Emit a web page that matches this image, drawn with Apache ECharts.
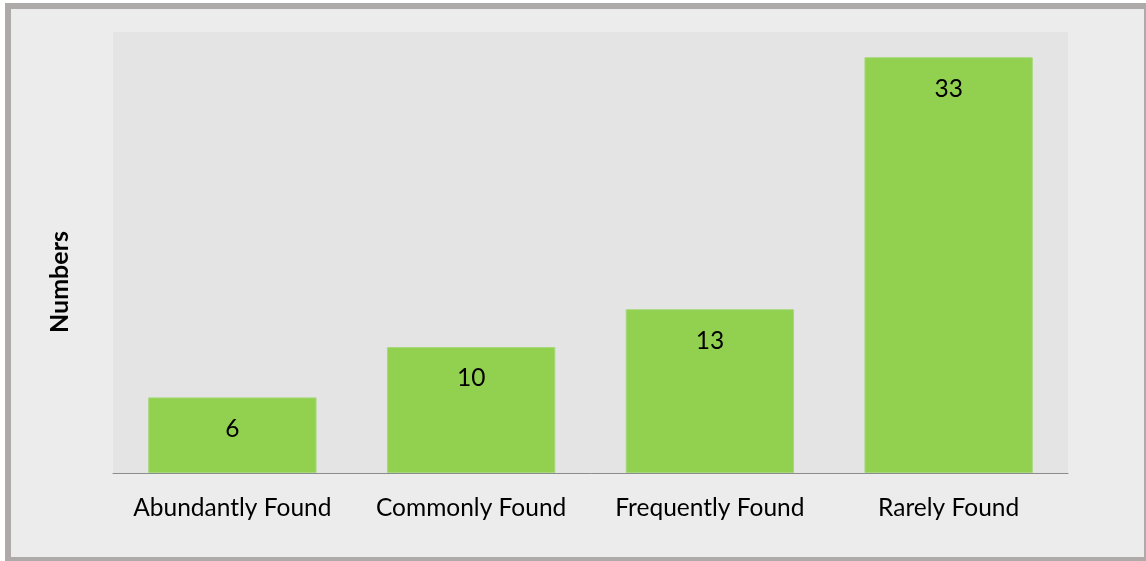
<!DOCTYPE html>
<html>
<head>
<meta charset="utf-8">
<script src="https://cdn.jsdelivr.net/npm/echarts@6/dist/echarts.min.js"></script>
<style>
  html, body { margin: 0; padding: 0; background: #ffffff; }
  #chart { width: 1146px; height: 561px; }
</style>
</head>
<body>
<div id="chart"></div>
<script>
// Occurrence categories and how many species fall in each
const categories = ['Abundantly Found', 'Commonly Found', 'Frequently Found', 'Rarely Found'];
const counts = [6, 10, 13, 33];
const axisTitle = 'Numbers';

const FONT = 'Lato';

const chart = echarts.init(document.getElementById('chart'), null, { renderer: 'canvas' });

chart.setOption({
  backgroundColor: '#ffffff',
  animation: false,
  graphic: [
    // framed panel behind the chart
    { type: 'rect', z: -10, shape: { x: 5, y: 3, width: 1141, height: 558 }, style: { fill: '#aeaaaa' } },
    { type: 'rect', z: -9, shape: { x: 11, y: 9, width: 1133, height: 548 }, style: { fill: '#ececec' } },
    {
      type: 'text', z: 10, x: 60, y: 282, rotation: Math.PI / 2,
      style: {
        text: axisTitle, fill: '#000000', font: 'bold 25px ' + FONT,
        align: 'center', verticalAlign: 'middle'
      }
    }
  ],
  grid: {
    left: 113, right: 78, top: 32, bottom: 88,
    show: true, backgroundColor: '#e4e4e4', borderWidth: 0
  },
  xAxis: {
    type: 'category',
    data: categories,
    axisLine: { show: true, lineStyle: { color: '#8c8c8c', width: 1 } },
    axisTick: { show: false },
    axisLabel: { color: '#000000', fontFamily: FONT, fontSize: 24.5, margin: 23, interval: 0 }
  },
  yAxis: {
    type: 'value',
    min: 0, max: 35, interval: 5,
    show: false,
    splitLine: { show: false }
  },
  series: [{
    type: 'bar',
    data: counts,
    barCategoryGap: '29.5%',
    itemStyle: { color: '#92d050', borderColor: '#a6d97a', borderWidth: 1 },
    label: {
      show: true, position: 'insideTop', distance: 19,
      color: '#000000', fontFamily: FONT, fontSize: 24.5
    }
  }]
});
</script>
</body>
</html>
